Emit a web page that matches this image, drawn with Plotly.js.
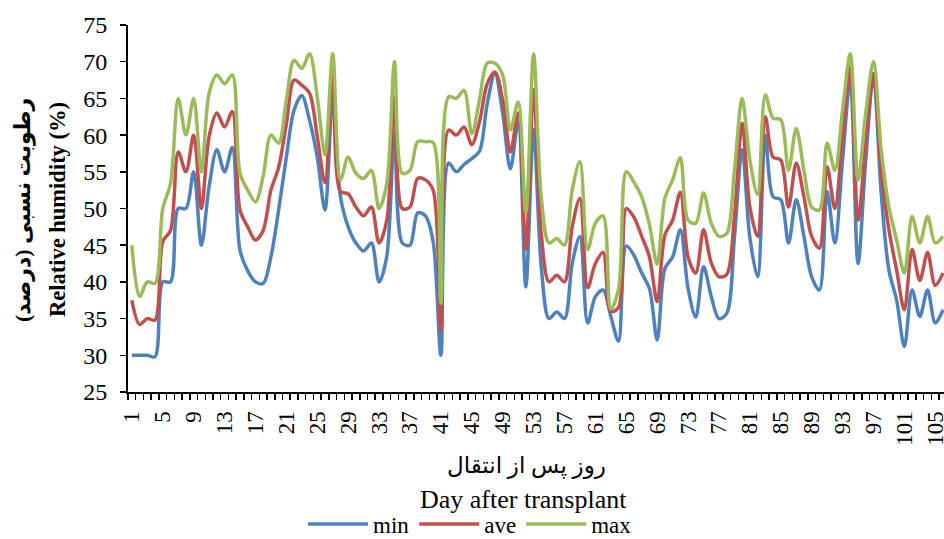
<!DOCTYPE html>
<html>
<head>
<meta charset="utf-8">
<script src="https://cdn.plot.ly/plotly-3.0.1.min.js"></script>
<style>
  html, body { margin: 0; padding: 0; background: #ffffff; }
  #chart { width: 944px; height: 539px; }
</style>
</head>
<body>
<div id="chart"></div>
<script>
// Day after transplant (category axis)
const days = [
  1, 2, 3, 4, 5, 6, 7, 8, 9, 10, 11, 12, 13, 14, 15, 16, 17, 18, 19, 20,
  21, 22, 23, 24, 25, 26, 27, 28, 29, 30, 31, 32, 33, 34, 35, 36, 37, 38, 39, 40,
  41, 42, 43, 44, 45, 46, 47, 48, 49, 50, 51, 52, 53, 54, 55, 56, 57, 58, 59, 60,
  61, 62, 63, 64, 65, 66, 67, 68, 69, 70, 71, 72, 73, 74, 75, 76, 77, 78, 79, 80,
  81, 82, 83, 84, 85, 86, 87, 88, 89, 90, 91, 92, 93, 94, 95, 96, 97, 98, 99, 100,
  101, 102, 103, 104, 105, 106
];

// Daily minimum relative humidity (%)
const rhMin = [
  30, 30, 30, 29.8, 40, 40, 50, 50, 55, 45,
  53, 58, 55, 58.3, 44.3, 41.5, 40, 39.8, 43.4, 49.8,
  57, 63.4, 65.4, 62, 57, 49.8, 65, 51.6, 47.5, 45.3,
  44.2, 45.3, 40, 43.5, 60.3, 45.3, 45, 49.4, 49, 45.5,
  30, 56.2, 55, 56, 56.8, 57.8, 64.3, 68.4, 63, 55.4,
  61.7, 39.3, 60.8, 42, 35, 35.9, 35, 42.5, 46.2, 34.4,
  38, 38.9, 35.3, 31.9, 44.9, 43.6, 41.2, 39.1, 32.1, 41.8,
  43.4, 47.1, 39.1, 35.2, 42.1, 38, 35, 35.7, 46, 58,
  46, 40.7, 60, 51.6, 51.2, 45.3, 51.2, 46.2, 40.7, 38.9,
  52.3, 45.3, 56.6, 67.5, 42.5, 56.6, 68, 52.1, 41.6, 37.5,
  31.2, 38.9, 35.3, 38.9, 34.4, 36.2
];

// Daily average relative humidity (%)
const rhAve = [
  37.5, 34.2, 35, 34.8, 45.5, 47, 57.7, 55, 60, 50,
  59.8, 63, 61.1, 63.2, 49.8, 47.5, 45.7, 47, 52.5, 55.6,
  61.5, 67.5, 66.8, 65.7, 59.8, 53.5, 68.2, 52.3, 52, 50.2,
  49, 50.2, 45.3, 48.4, 65.2, 50, 50.2, 54.1, 53.9, 52.5,
  33.4, 60.7, 60, 61.1, 58.7, 61.8, 67, 68.6, 64.8, 57.7,
  63, 44.4, 66.2, 46.5, 40, 40.9, 40, 47.5, 51.4, 39.2,
  42.5, 44, 36, 36.5, 50, 48.8, 46.2, 43.4, 37.3, 46.4,
  48.4, 52.2, 43.4, 41.2, 47.1, 42.6, 40.7, 41, 48.9, 61.6,
  50.2, 46.2, 62.5, 57, 56.6, 50.2, 56.2, 51.6, 46.2, 44.6,
  55.7, 50, 59.8, 69.3, 48.4, 58.9, 68.4, 55.2, 47.1, 41.6,
  36.2, 44.4, 40.2, 44, 39.5, 41.2
];

// Daily maximum relative humidity (%)
const rhMax = [
  45, 38, 40, 39.8, 50, 53.4, 65, 60, 65, 55,
  65.7, 68.2, 67, 68.2, 54.8, 52.5, 50.9, 54.4, 60, 58.9,
  64.8, 70.2, 69.1, 71.1, 65.2, 57.3, 71.1, 53.9, 57, 54.8,
  54.1, 55.2, 50, 53.4, 70, 54.8, 55.2, 59.1, 59.1, 59,
  37.1, 65.2, 65, 66.1, 60.2, 64.8, 69.8, 69.8, 68.2, 60.7,
  64.5, 49.4, 71.1, 51.5, 45.3, 45.9, 45, 52.5, 56.4, 44.4,
  48, 49, 36.3, 39, 55, 53.6, 51.6, 47.8, 42.4, 51.4,
  53.9, 56.9, 48.4, 48, 52.1, 48, 46.2, 46.6, 55.2, 65,
  56.6, 51.9, 65.5, 62.3, 62.1, 55.2, 60.9, 55.2, 50.2, 49.8,
  58.9, 55.2, 63.4, 71.1, 53.9, 63, 70, 58, 50.2, 45.7,
  41.2, 48.9, 45.3, 48.9, 45.3, 46.2
];

// Labelled days on the x axis
const dayTicks = [1, 5, 9, 13, 17, 21, 25, 29, 33, 37, 41, 45, 49, 53, 57, 61, 65, 69, 73, 77, 81, 85, 89, 93, 97, 101, 105];

const seriesNames = ['min', 'ave', 'max'];
const seriesColors = ['#4F81BD', '#C0504D', '#9BBB59'];

// Axis title lines (Persian and English)
const yTitleFa = '\u0631\u0637\u0648\u0628\u062A \u0646\u0633\u0628\u06CC (\u062F\u0631\u0635\u062F)\u200F';
const yTitleEn = 'Relative humidity (%)';
const xTitleFa = '\u0631\u0648\u0632 \u067E\u0633 \u0627\u0632 \u0627\u0646\u062A\u0642\u0627\u0644';
const xTitleEn = 'Day after transplant';

const serif = 'Liberation Serif, DejaVu Sans, serif';

const traces = [rhMin, rhAve, rhMax].map((vals, k) => ({
  type: 'scatter',
  mode: 'lines',
  x: days,
  y: vals,
  name: seriesNames[k],
  line: { color: seriesColors[k], width: 3.5, shape: 'spline', smoothing: 0.9 },
  hoverinfo: 'skip'
}));

// plot area: x 128..944 px, y 25..392 px
const plotLeft = 128, plotWidth = 816, plotBottom = 392, plotHeight = 367;
const px = (x) => (x - plotLeft) / plotWidth;
const py = (y) => (plotBottom - y) / plotHeight;

const annotations = [
  { text: '<b>' + yTitleFa + '</b>', xref: 'paper', yref: 'paper', x: px(23), y: py(210),
    xanchor: 'center', yanchor: 'middle', textangle: -90, showarrow: false,
    font: { family: serif, size: 22, color: '#000000' } },
  { text: '<b>' + yTitleEn + '</b>', xref: 'paper', yref: 'paper', x: px(57), y: py(210),
    xanchor: 'center', yanchor: 'middle', textangle: -90, showarrow: false,
    font: { family: serif, size: 22.5, color: '#000000' } },
  { text: xTitleFa, xref: 'paper', yref: 'paper', x: px(526), y: py(466),
    xanchor: 'center', yanchor: 'middle', showarrow: false,
    font: { family: serif, size: 23, color: '#000000' } },
  { text: xTitleEn, xref: 'paper', yref: 'paper', x: px(523), y: py(499),
    xanchor: 'center', yanchor: 'middle', showarrow: false,
    font: { family: serif, size: 26, color: '#000000' } }
];

const layout = {
  width: 944,
  height: 539,
  paper_bgcolor: '#ffffff',
  plot_bgcolor: '#ffffff',
  margin: { l: plotLeft, r: 0, t: 25, b: 539 - plotBottom, autoexpand: false },
  showlegend: true,
  font: { family: serif, color: '#000000', size: 23 },
  annotations: annotations,
  xaxis: {
    type: 'linear',
    range: [0.5, 106.13],
    tickmode: 'array',
    tickvals: dayTicks,
    ticktext: dayTicks.map(String),
    tickangle: -90,
    ticks: 'outside',
    ticklen: 8,
    tickcolor: 'rgba(0,0,0,0)',
    ticklabeloverflow: 'allow',
    tickfont: { family: serif, size: 23, color: '#000000' },
    showgrid: false,
    zeroline: false,
    showline: true,
    linecolor: '#000000',
    linewidth: 2,
    minor: {
      tickmode: 'linear',
      tick0: 0.5,
      dtick: 1,
      ticks: 'outside',
      ticklen: 6,
      tickwidth: 1.5,
      tickcolor: '#000000',
      showgrid: false
    }
  },
  yaxis: {
    range: [25, 75],
    tickmode: 'linear',
    tick0: 25,
    dtick: 5,
    ticks: 'outside',
    ticklen: 6,
    tickwidth: 1.5,
    tickcolor: '#000000',
    ticklabelstandoff: 8,
    tickfont: { family: serif, size: 24, color: '#000000' },
    showgrid: false,
    zeroline: false,
    showline: true,
    linecolor: '#000000',
    linewidth: 2
  },
  legend: {
    orientation: 'h',
    x: px(470),
    xanchor: 'center',
    y: py(524),
    yanchor: 'middle',
    font: { family: serif, size: 23, color: '#000000' },
    itemwidth: 60,
    traceorder: 'normal',
    bgcolor: 'rgba(0,0,0,0)'
  }
};

Plotly.newPlot('chart', traces, layout, { staticPlot: true, displayModeBar: false });
</script>
</body>
</html>
